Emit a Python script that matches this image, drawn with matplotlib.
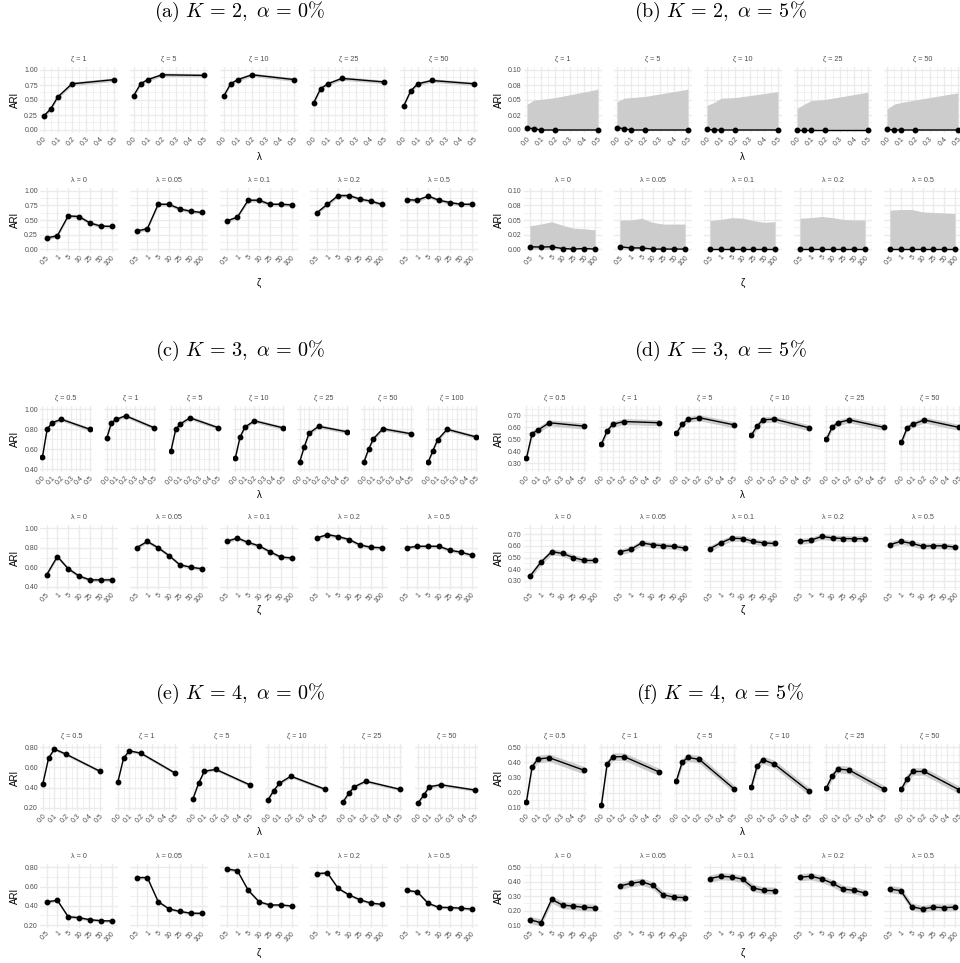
import numpy as np
import matplotlib
matplotlib.use('Agg')
import matplotlib.pyplot as plt

plt.rcParams['font.family'] = ['Liberation Sans', 'DejaVu Sans']
plt.rcParams['mathtext.fontset'] = 'cm'

lambdas = [0, 0.05, 0.1, 0.2, 0.5]
lambda_labels = ['0', '0.05', '0.1', '0.2', '0.5']
zetas = ['0.5', '1', '5', '10', '25', '50', '100']

# mean ARI, rows = lambda, columns = zeta
ari_a = [[0.19, 0.23, 0.57, 0.56, 0.45, 0.395, 0.39],
         [0.31, 0.35, 0.77, 0.77, 0.69, 0.65, 0.63],
         [0.48, 0.55, 0.84, 0.84, 0.77, 0.77, 0.76],
         [0.62, 0.77, 0.92, 0.92, 0.86, 0.825, 0.77],
         [0.85, 0.84, 0.91, 0.84, 0.80, 0.77, 0.77]]
ari_b = [[0.004, 0.0035, 0.004, 0.001, 0.0, 0.001, 0.0],
         [0.004, 0.002, 0.002, 0.0, 0.0, 0.0, 0.0],
         [0.0, 0.0, 0.0, 0.0, 0.0, 0.0, 0.0],
         [0.0, 0.0, 0.0, 0.0, 0.0, 0.0, 0.0],
         [0.0, 0.0, 0.0, 0.0, 0.0, 0.0, 0.0]]
upper_b = [[0.040, 0.043, 0.047, 0.041, 0.036, 0.035, 0.033],
           [0.050, 0.050, 0.053, 0.046, 0.043, 0.043, 0.043],
           [0.049, 0.051, 0.054, 0.053, 0.049, 0.046, 0.047],
           [0.053, 0.054, 0.056, 0.054, 0.051, 0.050, 0.050],
           [0.067, 0.068, 0.068, 0.064, 0.063, 0.062, 0.061]]
ari_c = [[0.52, 0.71, 0.585, 0.51, 0.47, 0.47, 0.47],
         [0.80, 0.865, 0.80, 0.72, 0.625, 0.60, 0.585],
         [0.865, 0.90, 0.855, 0.82, 0.76, 0.705, 0.695],
         [0.90, 0.935, 0.915, 0.885, 0.83, 0.805, 0.80],
         [0.80, 0.815, 0.815, 0.815, 0.775, 0.755, 0.725]]
ari_d = [[0.34, 0.46, 0.55, 0.535, 0.50, 0.475, 0.475],
         [0.548, 0.57, 0.625, 0.61, 0.60, 0.595, 0.58],
         [0.576, 0.626, 0.665, 0.662, 0.638, 0.625, 0.62],
         [0.638, 0.648, 0.68, 0.668, 0.662, 0.661, 0.66],
         [0.61, 0.638, 0.621, 0.597, 0.60, 0.60, 0.589]]
ari_e = [[0.44, 0.457, 0.286, 0.276, 0.255, 0.245, 0.242],
         [0.693, 0.693, 0.443, 0.368, 0.341, 0.323, 0.321],
         [0.783, 0.765, 0.562, 0.442, 0.408, 0.408, 0.398],
         [0.733, 0.742, 0.581, 0.513, 0.463, 0.428, 0.415],
         [0.561, 0.544, 0.425, 0.383, 0.382, 0.375, 0.366]]
ari_f = [[0.137, 0.116, 0.278, 0.238, 0.231, 0.222, 0.22],
         [0.371, 0.389, 0.40, 0.376, 0.309, 0.293, 0.29],
         [0.422, 0.438, 0.433, 0.418, 0.356, 0.34, 0.338],
         [0.431, 0.438, 0.42, 0.389, 0.349, 0.34, 0.322],
         [0.349, 0.338, 0.227, 0.211, 0.224, 0.22, 0.224]]
# half width of the grey band
se_a, se_c, se_d, se_e, se_f = 0.03, 0.018, 0.025, 0.015, 0.025

W, H = 960, 963
fig = plt.figure(figsize=(W / 100, H / 100), dpi=100)

GRID = '#ebebeb'
TXT = '#4d4d4d'
TICK_FS = 5.0


def px_axes(left, top, width, height):
    return fig.add_axes([left / W, 1 - (top + height) / H, width / W, height / H])


def style(ax, ylim, yticks, ylabels, yminor, show_y):
    lo, hi = ylim
    pad = 0.05 * (hi - lo)
    ax.set_ylim(lo - pad, hi + pad)
    ax.set_yticks(yticks)
    ax.set_yticks(yminor, minor=True)
    if show_y:
        ax.set_yticklabels(ylabels, fontsize=TICK_FS, color=TXT)
    else:
        ax.set_yticklabels([])
    for s in ax.spines.values():
        s.set_visible(False)
    ax.tick_params(which='both', length=0, pad=1.5)
    ax.grid(which='major', color=GRID, lw=1.0)
    ax.grid(which='minor', color=GRID, lw=0.5)
    ax.set_axisbelow(True)


def draw(title, col, block, mean, lower, upper, top_idx, ylim, yticks, ylabels, yminor):
    mean, lower, upper = np.array(mean), np.array(lower), np.array(upper)
    x0 = [40, 523.5][col]
    ty, t_top, t_h, lam_y, b_top, b_h, z_y = block
    fig.text([240, 720][col] / W, 1 - ty / H, title, ha='center', va='center', fontsize=14.5)

    # top row: facets by zeta, x = lambda
    n = len(top_idx)
    w = (438 - 12 * (n - 1)) / n
    for j, k in enumerate(top_idx):
        ax = px_axes(x0 + j * (w + 12), t_top, w, t_h)
        ax.fill_between(lambdas, lower[:, k], upper[:, k], color='#cccccc', lw=0, zorder=2)
        ax.plot(lambdas, mean[:, k], color='black', lw=1.0, marker='o', ms=3.2, zorder=3)
        ax.set_xlim(-0.025, 0.525)
        ax.set_xticks([0, 0.1, 0.2, 0.3, 0.4, 0.5])
        ax.set_xticks([0.05, 0.15, 0.25, 0.35, 0.45], minor=True)
        ax.set_xticklabels(['0.0', '0.1', '0.2', '0.3', '0.4', '0.5'], rotation=45,
                           ha='right', rotation_mode='anchor', fontsize=TICK_FS, color=TXT)
        style(ax, ylim, yticks, ylabels, yminor, j == 0)
        ax.text(0.5, 1 + 8 / t_h, 'ζ = ' + zetas[k], transform=ax.transAxes,
                ha='center', va='center', fontsize=5.2, color=TXT)
    fig.text((x0 + 219) / W, 1 - lam_y / H, 'λ', ha='center', va='center', fontsize=7)
    fig.text((x0 - 25) / W, 1 - (t_top + t_h / 2) / H, 'ARI', rotation=90,
             ha='center', va='center', fontsize=7)

    # bottom row: facets by lambda, x = zeta (discrete)
    xs = np.arange(len(zetas))
    for i in range(len(lambdas)):
        ax = px_axes(x0 + i * 90, b_top, 78, b_h)
        ax.fill_between(xs, lower[i], upper[i], color='#cccccc', lw=0, zorder=2)
        ax.plot(xs, mean[i], color='black', lw=1.0, marker='o', ms=3.2, zorder=3)
        ax.set_xlim(-0.6, len(zetas) - 0.4)
        ax.set_xticks(xs)
        ax.set_xticklabels(zetas, rotation=45, ha='right', rotation_mode='anchor',
                           fontsize=TICK_FS, color=TXT)
        style(ax, ylim, yticks, ylabels, yminor, i == 0)
        ax.text(0.5, 1 + 8 / b_h, 'λ = ' + lambda_labels[i], transform=ax.transAxes,
                ha='center', va='center', fontsize=5.2, color=TXT)
    fig.text((x0 + 219) / W, 1 - z_y / H, 'ζ', ha='center', va='center', fontsize=7)
    fig.text((x0 - 25) / W, 1 - (b_top + b_h / 2) / H, 'ARI', rotation=90,
             ha='center', va='center', fontsize=7)


# (title y, top row top, top row height, lambda label y, bottom row top, bottom row height, zeta label y)
block_ab = (12, 67, 66, 157, 188, 64, 283)
block_cd = (351, 406.3, 66, 495, 525.4, 64.2, 610)
block_ef = (694, 744.3, 66.4, 832, 864.4, 63.5, 953)

a = np.array(ari_a)
draw(r'$\mathrm{(a)}\ K\,=\,2,\ \alpha\,=\,0\%$', 0, block_ab, a, a - se_a, a + se_a, [1, 2, 3, 4, 5],
     (0, 1), [0, 0.25, 0.5, 0.75, 1], ['0.00', '0.25', '0.50', '0.75', '1.00'],
     [0.125, 0.375, 0.625, 0.875])
b = np.array(ari_b)
draw(r'$\mathrm{(b)}\ K\,=\,2,\ \alpha\,=\,5\%$', 1, block_ab, b, np.zeros_like(b), upper_b, [1, 2, 3, 4, 5],
     (0, 0.1), [0, 0.025, 0.05, 0.075, 0.1], ['0.00', '0.02', '0.05', '0.08', '0.10'],
     [0.0125, 0.0375, 0.0625, 0.0875])
c = np.array(ari_c)
draw(r'$\mathrm{(c)}\ K\,=\,3,\ \alpha\,=\,0\%$', 0, block_cd, c, c - se_c, c + se_c, [0, 1, 2, 3, 4, 5, 6],
     (0.4, 1.0), [0.4, 0.6, 0.8, 1.0], ['0.40', '0.60', '0.80', '1.00'], [0.5, 0.7, 0.9])
d = np.array(ari_d)
draw(r'$\mathrm{(d)}\ K\,=\,3,\ \alpha\,=\,5\%$', 1, block_cd, d, d - se_d, d + se_d, [0, 1, 2, 3, 4, 5],
     (0.25, 0.75), [0.3, 0.4, 0.5, 0.6, 0.7], ['0.30', '0.40', '0.50', '0.60', '0.70'],
     [0.25, 0.35, 0.45, 0.55, 0.65, 0.75])
e = np.array(ari_e)
draw(r'$\mathrm{(e)}\ K\,=\,4,\ \alpha\,=\,0\%$', 0, block_ef, e, e - se_e, e + se_e, [0, 1, 2, 3, 4, 5],
     (0.2, 0.8), [0.2, 0.4, 0.6, 0.8], ['0.20', '0.40', '0.60', '0.80'], [0.3, 0.5, 0.7])
f = np.array(ari_f)
draw(r'$\mathrm{(f)}\ K\,=\,4,\ \alpha\,=\,5\%$', 1, block_ef, f, f - se_f, f + se_f, [0, 1, 2, 3, 4, 5],
     (0.1, 0.5), [0.1, 0.2, 0.3, 0.4, 0.5], ['0.10', '0.20', '0.30', '0.40', '0.50'],
     [0.15, 0.25, 0.35, 0.45])

fig.savefig('out.png', dpi=100)
